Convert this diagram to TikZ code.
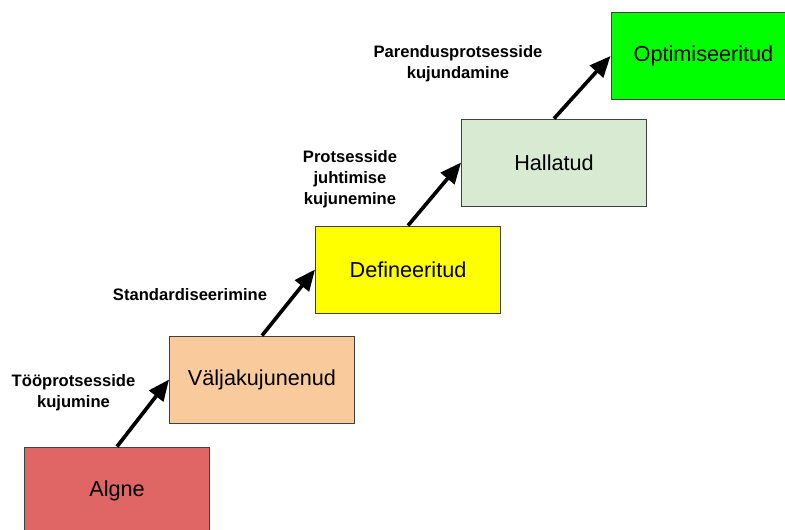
\documentclass[tikz,border=0pt]{standalone}
\usepackage{fontspec}
\setmainfont{Liberation Sans}
\usetikzlibrary{arrows.meta}
\definecolor{algne}{HTML}{E06666}
\definecolor{valja}{HTML}{F9CB9C}
\definecolor{defin}{HTML}{FFFF00}
\definecolor{halla}{HTML}{D9EAD3}
\definecolor{optim}{HTML}{00FF00}
\begin{document}
\begin{tikzpicture}
[x=0.025cm,y=-0.025cm,
level/.style={rectangle,draw=black!75,line width=0.6pt,minimum width=4.625cm,minimum height=2.175cm,font=\fontsize{15.4}{18}\selectfont},
lbl/.style={align=center,font=\fontsize{11.8}{14.8}\selectfont\bfseries}]
\useasboundingbox (0,0) rectangle (785,529);
\clip (0,0) rectangle (785,529);
\node[level,fill=algne] (n1) at (117,490.5) {Algne};
\node[level,fill=valja] (n2) at (262,379.5) {Väljakujunenud};
\node[level,fill=defin] (n3) at (408,269.5) {Defineeritud};
\node[level,fill=halla] (n4) at (554,162.5) {Hallatud};
\node[level,fill=optim] (n5) at (703.5,56) {Optimiseeritud};
\node[lbl] (l1) at (73.5,393) {Tööprotsesside\\kujumine};
\node[lbl] (l2) at (190,295) {Standardiseerimine};
\node[lbl] (l3) at (350,179) {Protsesside\\juhtimise\\kujunemine};
\node[lbl] (l4) at (458,64) {Parendusprotsesside\\kujundamine};
\foreach \from/\to in {n1/n2,n2/n3,n3/n4,n4/n5}
\draw[line width=2.6pt,-{Triangle[length=15pt,width=12.5pt]}] (\from.north) -- (\to.west);
\end{tikzpicture}
\end{document}
